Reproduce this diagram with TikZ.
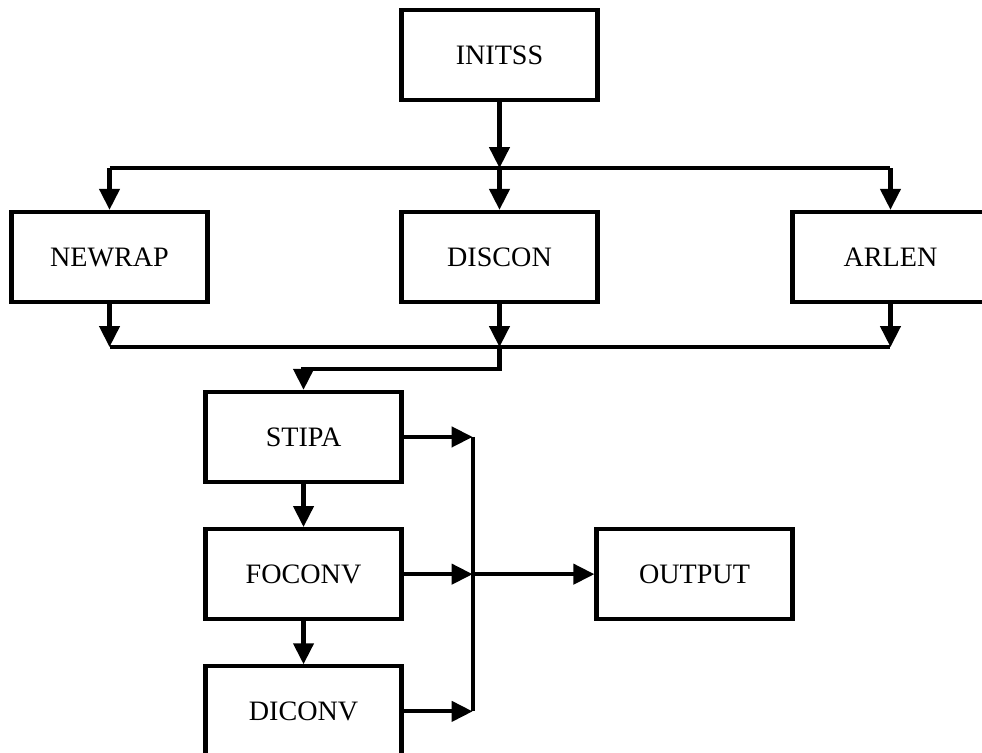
\documentclass[tikz,border=0pt]{standalone}
\usepackage{fontspec}
\setmainfont{Liberation Serif}
\usetikzlibrary{arrows.meta, positioning}

\begin{document}
\begin{tikzpicture}[
    font=\fontsize{16}{19}\selectfont,
    box/.style={rectangle, draw=black, fill=white, line width=2.4pt, minimum width=3.92cm, minimum height=1.8cm, align=center},
    line/.style={line width=2.4pt, draw=black},
    arrow/.style={line, -{Triangle[length=0.42cm, width=0.4cm]}}
]
\useasboundingbox (-9.99,1.1) rectangle (9.65,-13.94);

\node[box] (initss) {INITSS};
\node[box, below=2.155cm of initss] (discon) {DISCON};
\node[box, left=3.795cm of discon] (newrap) {NEWRAP};
\node[box, right=3.815cm of discon] (arlen) {ARLEN};
\node[box, below left=1.715cm and -0.085cm of discon] (stipa) {STIPA};
\node[box, below=0.86cm of stipa] (foconv) {FOCONV};
\node[box, below=0.86cm of foconv] (diconv) {DICONV};
\node[box, right=3.815cm of foconv] (output) {OUTPUT};

% branch and join points
\coordinate[below=1.32cm of initss] (split);
\coordinate[below=0.86cm of discon] (join);
\coordinate[below=0.44cm of join] (turn);
\coordinate[right=1.38cm of foconv] (merge);

\draw[arrow] (initss) -- (split);
\draw[line] (newrap |- split) -- (arlen |- split);
\foreach \n in {newrap, discon, arlen} \draw[arrow] (\n |- split) -- (\n);
\foreach \n in {newrap, discon, arlen} \draw[arrow] (\n) -- (\n |- join);
\draw[line] (newrap |- join) -- (arlen |- join);
\draw[arrow] (join) -- (turn) -| (stipa);

\draw[arrow] (stipa) -- (foconv);
\draw[arrow] (foconv) -- (diconv);
\foreach \n in {stipa, foconv, diconv} \draw[arrow] (\n) -- (\n -| merge);
\draw[line] (stipa -| merge) -- (diconv -| merge);
\draw[arrow] (merge) -- (output);

\end{tikzpicture}
\end{document}
